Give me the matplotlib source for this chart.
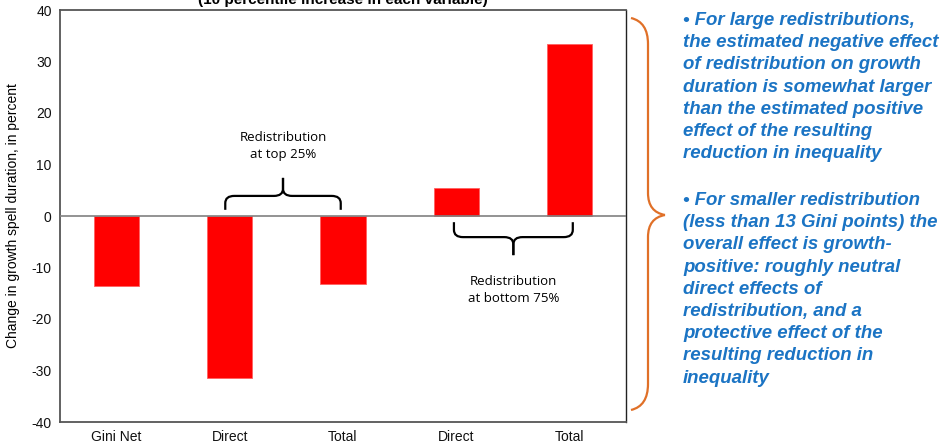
import matplotlib
matplotlib.use("Agg")
import matplotlib.pyplot as plt
from matplotlib.path import Path
from matplotlib.patches import PathPatch
import numpy as np

categories = ["Gini Net", "Direct", "Total", "Direct", "Total"]
values = [-13.6, -31.5, -13.2, 5.4, 33.4]

title = "(10 percentile increase in each variable)"
ylabel = "Change in growth spell duration, in percent"
top_label = "Redistribution\nat top 25%"
bottom_label = "Redistribution\nat bottom 75%"
note1 = ("\u2022 For large redistributions,\n"
         "the estimated negative effect\n"
         "of redistribution on growth\n"
         "duration is somewhat larger\n"
         "than the estimated positive\n"
         "effect of the resulting\n"
         "reduction in inequality")
note2 = ("\u2022 For smaller redistribution\n"
         "(less than 13 Gini points) the\n"
         "overall effect is growth-\n"
         "positive: roughly neutral\n"
         "direct effects of\n"
         "redistribution, and a\n"
         "protective effect of the\n"
         "resulting reduction in\n"
         "inequality")

plt.rcParams['font.family'] = ['Liberation Sans', 'DejaVu Sans']
plt.rcParams['axes.unicode_minus'] = False

W, H = 944, 447
fig = plt.figure(figsize=(W / 100, H / 100), dpi=100)
ax = fig.add_axes([60 / W, 1 - 422 / H, (626 - 60) / W, (422 - 10) / H])

x = np.arange(len(categories))
ax.bar(x, values, width=0.4, color='#FF0000', edgecolor='#FF6060', linewidth=0.6, zorder=2)
ax.axhline(0, color='#808080', linewidth=1.2, zorder=3)

ax.set_xlim(-0.5, len(categories) - 0.5)
ax.set_ylim(-40, 40)
ax.set_yticks(np.arange(-40, 41, 10))
ax.set_xticks(x)
ax.set_xticklabels(categories)
ax.tick_params(length=0, labelsize=10, pad=6, labelcolor='#111111')
ax.set_ylabel(ylabel, fontsize=10, labelpad=8)
for s in ax.spines.values():
    s.set_color('#555555')
    s.set_linewidth(1.3)
ax.spines['right'].set_color('#222222')
ax.spines['right'].set_linewidth(1.0)


def half_brace(x0, xm, yb, yl, yt, rx, ry):
    # one half of a curly brace: from the end tip to the middle point
    d = 1 if xm > x0 else -1
    s = 1 if yt > yb else -1
    verts = [(x0, yb), (x0, yl - s * ry), (x0, yl), (x0 + d * rx, yl),
             (xm - d * rx, yl), (xm, yl), (xm, yl + s * ry), (xm, yt)]
    codes = [Path.MOVETO, Path.LINETO, Path.CURVE3, Path.CURVE3,
             Path.LINETO, Path.CURVE3, Path.CURVE3, Path.LINETO]
    return Path(verts, codes)


def brace(ax, x0, x1, yb, yl, yt, **kw):
    xm = (x0 + x1) / 2
    for xe in (x0, x1):
        p = half_brace(xe, xm, yb, yl, yt, 0.08, 1.4)
        ax.add_patch(PathPatch(p, fill=False, **kw))


bkw = dict(edgecolor='black', linewidth=1.6, zorder=4)
brace(ax, 0.96, 1.98, 1.2, 3.9, 7.4, **bkw)
brace(ax, 2.98, 4.03, -1.2, -4.1, -7.6, **bkw)

lab_font = ['Open Sans', 'DejaVu Sans']
ax.text(1.47, 13.5, top_label, ha='center', va='center', fontsize=9.5,
        family=lab_font, linespacing=1.4)
ax.text(3.51, -14.4, bottom_label, ha='center', va='center', fontsize=9.5,
        family=lab_font, linespacing=1.4)

fig.text(343 / W, 1.0, title, ha='center', va='center', fontsize=11,
         fontweight='bold')

# orange brace beside the plot, drawn in pixel-based figure coordinates
def fx(px):
    return px / W


def fy(py):
    return 1 - py / H


for top, bot in ((18, 215), (410, 215)):
    sgn = 1 if bot > top else -1
    verts = [(fx(631), fy(top)), (fx(648), fy(top + sgn * 4)), (fx(648), fy(top + sgn * 26)),
             (fx(648), fy(bot - sgn * 22)), (fx(648), fy(bot - sgn * 3)), (fx(665), fy(bot))]
    codes = [Path.MOVETO, Path.CURVE3, Path.CURVE3, Path.LINETO, Path.CURVE3, Path.CURVE3]
    fig.add_artist(PathPatch(Path(verts, codes), fill=False, edgecolor='#E07028',
                             linewidth=1.6, transform=fig.transFigure))

blue = '#1B74C4'
tkw = dict(ha='left', va='top', fontsize=13.4, fontweight='bold', fontstyle='italic',
           color=blue, linespacing=1.4)
fig.text(683 / W, 1 - 12 / H, note1, **tkw)
fig.text(683 / W, 1 - 192 / H, note2, **tkw)

fig.savefig("out.png", dpi=100)
